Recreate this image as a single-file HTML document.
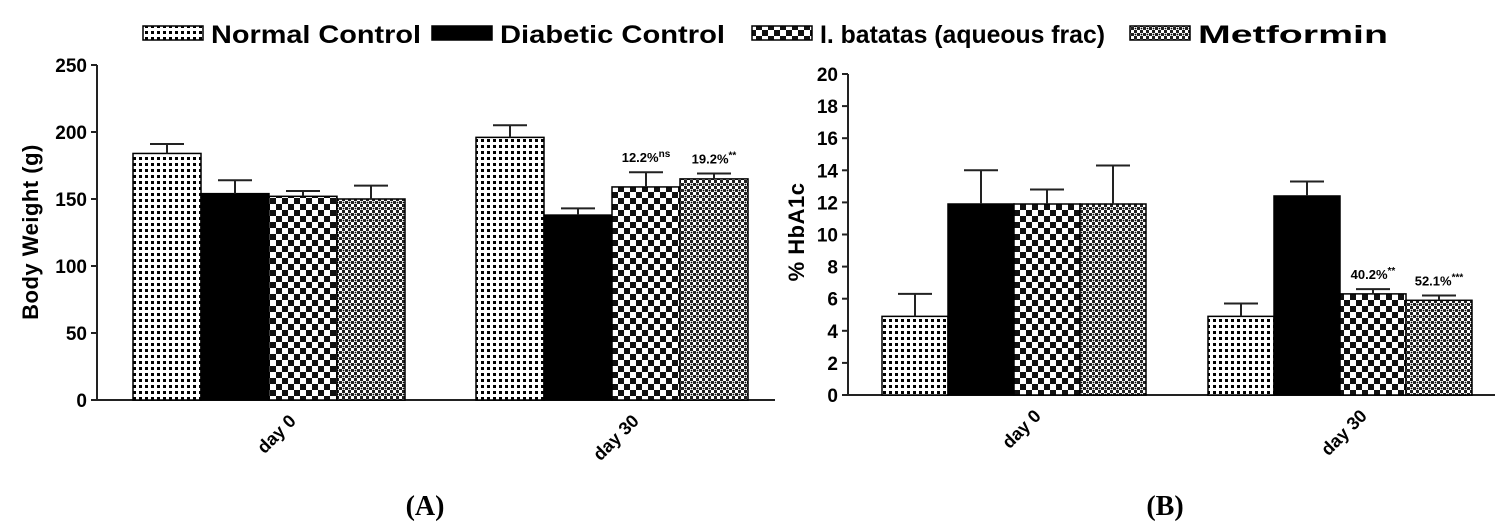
<!DOCTYPE html>
<html><head><meta charset="utf-8"><style>
html,body{margin:0;padding:0;background:#fff;}
svg{display:block;}
text{font-family:"Liberation Sans",Arial,sans-serif;font-weight:bold;fill:#000;}
</style></head><body>
<svg id="fig" width="1502" height="532" viewBox="0 0 1502 532" xmlns="http://www.w3.org/2000/svg">
<defs>
<pattern id="pNC" width="6" height="6" patternUnits="userSpaceOnUse"><rect width="6" height="6" fill="#fff"/><rect x="1" y="1" width="3" height="3" fill="#000"/></pattern>
<pattern id="pIB" width="12" height="12" patternUnits="userSpaceOnUse"><rect width="12" height="12" fill="#fff"/><rect width="6" height="6" fill="#111"/><rect x="6" y="6" width="6" height="6" fill="#111"/></pattern>
<pattern id="pMet" width="6" height="6" patternUnits="userSpaceOnUse"><rect width="6" height="6" fill="#fff"/><rect width="3" height="3" fill="#222"/><rect x="3" y="3" width="3" height="3" fill="#222"/><circle cx="1.5" cy="4.5" r="0.9" fill="#000"/></pattern>
</defs>
<g id="legend"></g>
<g id="chartA"></g>
<g id="chartB"></g>
<text x="425" y="515" font-size="28" text-anchor="middle" style="font-family:'Liberation Serif',serif">(A)</text>
<text x="1165" y="515" font-size="28" text-anchor="middle" style="font-family:'Liberation Serif',serif">(B)</text>
</svg>
<script>
const seriesNames = ["Normal Control","Diabetic Control","I. batatas (aqueous frac)","Metformin"];
const fills = ["url(#pNC)","#000","url(#pIB)","url(#pMet)"];
const categories = ["day 0","day 30"];
// Chart A: body weight
const bwMean = [[184,196],[154,138],[152,159],[150,165]];
const bwErr = [[7,9],[10,5],[4,11],[10,4]];
const bwTicks = [0,50,100,150,200,250];
const bwNotes = [[null,null],[null,null],[null,["12.2%","ns"]],[null,["19.2%","**"]]];
// Chart B: HbA1c
const hbMean = [[4.9,4.9],[11.9,12.4],[11.9,6.3],[11.9,5.9]];
const hbErr = [[1.4,0.8],[2.1,0.9],[0.9,0.3],[2.4,0.3]];
const hbTicks = [0,2,4,6,8,10,12,14,16,18,20];
const hbNotes = [[null,null],[null,null],[null,["40.2%","**"]],[null,["52.1%","***"]]];

const NS="http://www.w3.org/2000/svg";
function mk(parent,tag,attrs){const e=document.createElementNS(NS,tag);for(const k in attrs)e.setAttribute(k,attrs[k]);parent.appendChild(e);return e;}

function drawChart(g,cfg){
  const y=v=>cfg.y0-(v-cfg.min)/(cfg.max-cfg.min)*(cfg.y0-cfg.yTop);
  const ya=mk(g,'line',{x1:cfg.ax,y1:cfg.yTop,x2:cfg.ax,y2:cfg.y0,stroke:'#222','stroke-width':2});
  
  
  const xa=mk(g,'line',{x1:cfg.ax,y1:cfg.y0,x2:cfg.axEnd,y2:cfg.y0,stroke:'#222','stroke-width':2});
  
  
  cfg.ticks.forEach(t=>{
    const l=mk(g,'line',{x1:cfg.ax-6,y1:y(t),x2:cfg.ax,y2:y(t),stroke:'#222','stroke-width':2});
    
    
    const tx=mk(g,'text',{x:cfg.ax-10,y:y(t)+7,'font-size':19,'text-anchor':'end'});
    tx.textContent=t;
    
    
  });
  const yt=mk(g,'text',{x:0,y:0,'font-size':22,'text-anchor':'middle','letter-spacing':'0.5',transform:`translate(${cfg.titleX},${cfg.titleY}) rotate(-90)`});
  yt.textContent=cfg.title;
  
  
  categories.forEach((c,ci)=>{
    const gx=cfg.groupX[ci];
    cfg.mean.forEach((s,si)=>{
      const x=gx+si*cfg.bw, v=s[ci], e=cfg.err[si][ci];
      const r=mk(g,'rect',{x:x,y:y(v),width:cfg.bw,height:cfg.y0-y(v),fill:fills[si],stroke:'#000','stroke-width':1.5});
      
      
      const cx=x+cfg.bw/2;
      const el=mk(g,'path',{d:`M${cx} ${y(v)}V${y(v+e)}M${cx-17} ${y(v+e)}H${cx+17}`,stroke:'#222','stroke-width':2,fill:'none'});
      
      
      const n=cfg.notes[si][ci];
      if(n){const nt=mk(g,'text',{x:cx,y:y(v+e)-10,'font-size':13,'text-anchor':'middle'});
        nt.textContent=n[0];
        const sp=mk(nt,'tspan',{dy:-5,'font-size':10});sp.textContent=n[1];
        
        }
    });
    const cx=gx+2*cfg.bw;
    const lt=mk(g,'text',{x:0,y:0,'font-size':18,'text-anchor':'end',transform:`translate(${cx+28},${cfg.y0+22}) rotate(-45)`});
    lt.textContent=c;
    
    
  });
}
drawChart(document.getElementById('chartA'),{min:0,max:250,y0:400,yTop:65,ax:97,axEnd:775,ticks:bwTicks,title:'Body Weight (g)',titleX:38,titleY:232,groupX:[133,476],bw:68,mean:bwMean,err:bwErr,notes:bwNotes});
drawChart(document.getElementById('chartB'),{min:0,max:20,y0:395,yTop:74,ax:848,axEnd:1495,ticks:hbTicks,title:'% HbA1c',titleX:804,titleY:232,groupX:[882,1208],bw:66,mean:hbMean,err:hbErr,notes:hbNotes});

const lg=document.getElementById('legend');
const legX=[143,432,752,1130];
const legW=[210,225,285,190];
seriesNames.forEach((n,i)=>{
  const r=mk(lg,'rect',{x:legX[i],y:26,width:60,height:14,fill:fills[i],stroke:'#000','stroke-width':1.5});
  
  
  const t=mk(lg,'text',{x:legX[i]+68,y:43,'font-size':25,textLength:legW[i],lengthAdjust:'spacingAndGlyphs'});
  t.textContent=n;
  
  
});
</script>
</body></html>
